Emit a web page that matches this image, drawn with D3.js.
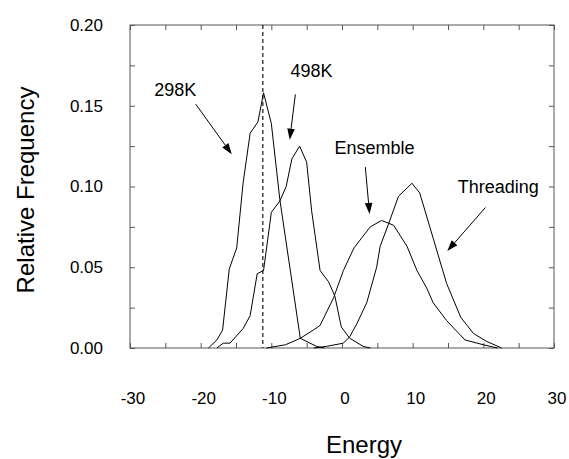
<!DOCTYPE html>
<html>
<head>
<meta charset="utf-8">
<script src="https://cdn.jsdelivr.net/npm/d3@7"></script>
<style>
  html, body { margin: 0; padding: 0; background: #fff; }
  svg { display: block; }
  text { font-family: "Liberation Sans", Arial, Helvetica, sans-serif; fill: #000; }
</style>
</head>
<body>
<svg id="chart" width="569" height="459"></svg>
<script>
// ---- data ----
const xTicks = [-30, -20, -10, 0, 10, 20, 30];
const xMinorTicks = [-25, -15, -5, 5, 15, 25];
const yTicks = [0.00, 0.05, 0.10, 0.15, 0.20];
const yMinorTicks = [0.025, 0.075, 0.125, 0.175];
const refLineEnergy = -11.2;

const e298 = [-18.9, -17.7, -16.9, -15.95, -14.9, -14.0, -13.0, -11.9, -11.1, -10.0, -8.8, -5.9, -3.6, -2.5];
const f298 = [0.000, 0.005, 0.011, 0.049, 0.062, 0.102, 0.133, 0.140, 0.158, 0.139, 0.092, 0.006, 0.001, 0.000];

const e498 = [-17.7, -16.8, -15.85, -14.0, -13.0, -12.0, -11.1, -10.0, -8.8, -7.9, -7.1, -6.0, -5.0, -4.3, -3.1, -1.9, -1.0, -0.1, 1.1, 3.0, 4.0];
const f498 = [0.000, 0.003, 0.003, 0.012, 0.020, 0.046, 0.048, 0.084, 0.091, 0.100, 0.117, 0.125, 0.115, 0.085, 0.048, 0.041, 0.032, 0.013, 0.006, 0.001, 0.000];

const eEns = [-10.7, -8.0, -5.9, -4.1, -3.1, -1.2, 0.2, 1.7, 4.0, 5.6, 7.3, 9.2, 10.6, 12.0, 12.9, 14.8, 17.4, 20.0, 22.0];
const fEns = [0.000, 0.002, 0.006, 0.011, 0.014, 0.031, 0.048, 0.062, 0.075, 0.079, 0.076, 0.063, 0.048, 0.037, 0.028, 0.017, 0.005, 0.002, 0.000];

const eThr = [-4.0, -2.2, 0.2, 1.1, 2.1, 3.5, 4.9, 5.4, 6.6, 8.0, 9.9, 11.0, 12.9, 14.8, 16.8, 18.6, 20.5, 22.6];
const fThr = [0.000, 0.001, 0.003, 0.007, 0.015, 0.028, 0.050, 0.063, 0.077, 0.094, 0.102, 0.096, 0.068, 0.040, 0.019, 0.009, 0.004, 0.000];

// annotations: label, label position (energy, freq), arrow tail and tip (energy, freq)
const annLabels = ["298K", "498K", "Ensemble", "Threading"];
const annTextE = [-23.6, -4.3, 4.6, 22.1];
const annTextF = [0.156, 0.168, 0.120, 0.096];
const annTailE = [-20.7, -6.6, 3.3, 20.3];
const annTailF = [0.151, 0.157, 0.112, 0.087];
const annTipE = [-15.6, -7.4, 3.9, 14.9];
const annTipF = [0.120, 0.129, 0.083, 0.060];

const xTitle = "Energy";
const yTitle = "Relative Frequency";

// ---- layout ----
const svg = d3.select("#chart");
const L = 130, R = 554, T = 25, B = 348;
const x = d3.scaleLinear().domain([-30, 30]).range([L, R]);
const y = d3.scaleLinear().domain([0, 0.20]).range([B, T]);
const frameColor = "#555";

// frame
svg.append("rect").attr("x", L).attr("y", T).attr("width", R - L).attr("height", B - T)
  .attr("fill", "none").attr("stroke", frameColor).attr("stroke-width", 1);

// ticks (inward) on all four sides via d3 axes
const allX = xTicks.concat(xMinorTicks);
const allY = yTicks.concat(yMinorTicks);
const tickLen = 5;
function styleAxis(g) {
  g.select(".domain").remove();
  g.selectAll("line").attr("stroke", frameColor);
  g.selectAll("text").remove();
}
svg.append("g").attr("transform", `translate(0,${B})`)
  .call(d3.axisBottom(x).tickValues(allX).tickSizeInner(-tickLen).tickSizeOuter(0)).call(styleAxis);
svg.append("g").attr("transform", `translate(0,${T})`)
  .call(d3.axisTop(x).tickValues(allX).tickSizeInner(-tickLen).tickSizeOuter(0)).call(styleAxis);
svg.append("g").attr("transform", `translate(${L},0)`)
  .call(d3.axisLeft(y).tickValues(allY).tickSizeInner(-tickLen).tickSizeOuter(0)).call(styleAxis);
svg.append("g").attr("transform", `translate(${R},0)`)
  .call(d3.axisRight(y).tickValues(allY).tickSizeInner(-tickLen).tickSizeOuter(0)).call(styleAxis);

// tick labels
svg.append("g").selectAll("text").data(xTicks).join("text")
  .attr("x", d => x(d) + 3).attr("y", 404)
  .attr("text-anchor", "middle").attr("font-size", 17)
  .text(d => String(d));
svg.append("g").selectAll("text").data(yTicks).join("text")
  .attr("x", 103).attr("y", d => y(d)).attr("dy", "0.35em")
  .attr("text-anchor", "end").attr("font-size", 17)
  .text(d => d.toFixed(2));

// axis titles
svg.append("text").attr("x", 364).attr("y", 453).attr("text-anchor", "middle")
  .attr("font-size", 24).text(xTitle);
svg.append("text").attr("transform", "translate(34,190) rotate(-90)")
  .attr("text-anchor", "middle").attr("font-size", 24).text(yTitle);

// dashed reference line
svg.append("line").attr("x1", x(refLineEnergy)).attr("x2", x(refLineEnergy))
  .attr("y1", T).attr("y2", B)
  .attr("stroke", "#000").attr("stroke-width", 1.1).attr("stroke-dasharray", "4,3");

// curves
const line = d3.line().x(d => x(d[0])).y(d => y(d[1]));
const series = [[e298, f298], [e498, f498], [eEns, fEns], [eThr, fThr]];
svg.append("g").selectAll("path").data(series).join("path")
  .attr("d", s => line(s[0].map((e, i) => [e, s[1][i]])))
  .attr("fill", "none").attr("stroke", "#000").attr("stroke-width", 1)
  .attr("stroke-linejoin", "round");

// annotations
const ann = annLabels.map((t, i) => ({t, i}));
svg.append("g").selectAll("text").data(ann).join("text")
  .attr("x", d => x(annTextE[d.i])).attr("y", d => y(annTextF[d.i]))
  .attr("text-anchor", "middle").attr("font-size", 18).text(d => d.t);

const headLen = 11, headHalf = 3.8;
const arrows = svg.append("g");
ann.forEach(d => {
  const x1 = x(annTailE[d.i]), y1 = y(annTailF[d.i]);
  const x2 = x(annTipE[d.i]), y2 = y(annTipF[d.i]);
  const dx = x2 - x1, dy = y2 - y1, len = Math.hypot(dx, dy);
  const ux = dx / len, uy = dy / len;
  const bx = x2 - ux * headLen, by = y2 - uy * headLen;
  arrows.append("line").attr("x1", x1).attr("y1", y1).attr("x2", bx).attr("y2", by)
    .attr("stroke", "#000").attr("stroke-width", 1);
  arrows.append("path")
    .attr("d", `M${x2},${y2}L${bx - uy * headHalf},${by + ux * headHalf}L${bx + uy * headHalf},${by - ux * headHalf}Z`)
    .attr("fill", "#000");
});
</script>
</body>
</html>
